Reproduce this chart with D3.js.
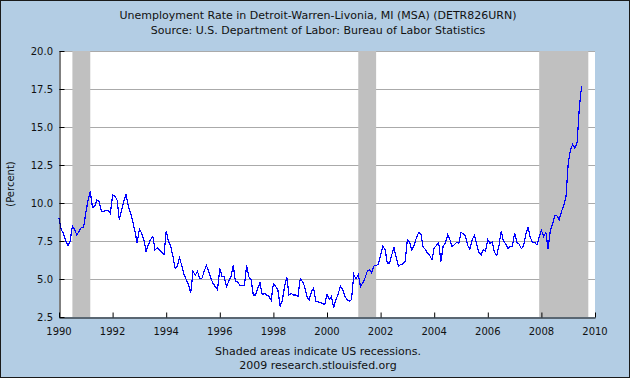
<!DOCTYPE html>
<html>
  <head>
    <meta charset="utf-8">
    <title>Unemployment Rate in Detroit-Warren-Livonia</title>
    <script src="https://d3js.org/d3.v7.min.js"></script>
    <style>
      body { margin: 0; background: #fff; }
      text { font-family: "DejaVu Sans", Verdana, sans-serif; font-size: 10px; fill: #111; }
      text.big { font-size: 11px; }
    </style>
  </head>
  <body>
    <script>
      // chart data: monthly rate (percent), starting Jan 1990
      var startYear = 1990;
      var rate = [
        9.0, 8.25, 8.0, 7.5, 7.2, 7.5, 8.5, 8.25, 7.9, 8.15, 8.4, 8.4,
        9.35, 10.2, 10.75, 9.7, 9.8, 10.2, 10.1, 9.45, 9.45, 9.5, 9.5, 9.3,
        10.55, 10.45, 10.2, 8.9, 9.55, 10.1, 10.6, 9.8, 9.35, 8.8, 8.15, 7.35,
        8.3, 8.0, 7.6, 6.8, 7.25, 7.6, 7.8, 6.9, 7.05, 6.9, 6.75, 6.6,
        8.15, 7.5, 7.15, 6.5, 5.7, 5.85, 6.4, 5.85, 5.3, 4.95, 4.6, 4.1,
        5.5, 5.25, 5.5, 5.05, 5.05, 5.5, 5.9, 5.5, 5.05, 4.7, 4.5, 4.3,
        5.7, 5.15, 5.15, 4.5, 4.85, 5.15, 5.9, 4.85, 4.8, 4.6, 4.55, 4.55,
        5.9, 5.15, 4.95, 3.95, 3.95, 4.4, 4.75, 3.95, 4.05, 3.95, 3.85, 3.6,
        4.7, 4.5, 4.3, 3.2, 3.6, 4.5, 5.1, 3.95, 4.05, 3.95, 3.95, 3.85,
        5.0, 4.85, 4.5, 3.85, 3.6, 4.15, 4.4, 3.5, 3.5, 3.45, 3.4, 3.3,
        4.0, 3.65, 3.85, 3.1, 3.65, 4.0, 4.55, 4.3, 3.85, 3.65, 3.55, 3.65,
        5.3, 5.0, 5.3, 4.5, 4.75, 5.05, 5.5, 5.6, 5.4, 5.85, 5.9, 5.95,
        6.6, 7.15, 6.95, 6.05, 6.05, 6.6, 7.05, 6.4, 5.85, 5.95, 6.0, 6.15,
        7.6, 7.4, 6.9, 7.2, 7.7, 8.05, 8.0, 7.1, 6.95, 6.7, 6.55, 6.25,
        7.05, 7.2, 7.4, 6.15, 7.15, 7.35, 7.9, 7.6, 7.15, 7.25, 7.4, 7.35,
        8.05, 8.0, 7.8, 7.2, 6.97, 7.6, 7.85, 7.3, 6.75, 6.58, 6.93, 6.85,
        7.6, 7.35, 7.45, 6.75, 6.55, 7.2, 8.15, 7.5, 7.3, 7.0, 7.15, 7.15,
        8.05, 7.4, 7.3, 7.0, 7.15, 7.95, 8.4, 7.75, 7.4, 7.4, 7.25, 7.75,
        8.2, 7.8, 8.05, 7.0, 8.2, 8.6, 9.17, 9.15, 8.9, 9.45, 9.8, 10.4,
        12.6, 13.5, 13.85, 13.6, 14.0, 16.3, 17.7
      ];

      // recessions as [start, end] in decimal years
      var recessions = [[1990.5, 1991.167], [2001.167, 2001.833], [2007.917, 2009.75]];

      var yTicks = [2.5, 5.0, 7.5, 10.0, 12.5, 15.0, 17.5, 20.0];
      var xTicks = [1990, 1992, 1994, 1996, 1998, 2000, 2002, 2004, 2006, 2008, 2010];

      var titleText = "Unemployment Rate in Detroit-Warren-Livonia, MI (MSA) (DETR826URN)",
        sourceText = "Source: U.S. Department of Labor: Bureau of Labor Statistics",
        noteText = "Shaded areas indicate US recessions.",
        creditText = "2009 research.stlouisfed.org";

      var width = 630, height = 378;
      var plot = { left: 59, right: 595, top: 51, bottom: 317 };

      var svg = d3.select("body").append("svg")
        .attr("width", width)
        .attr("height", height);

      // light blue panel with dark frame
      svg.append("rect")
        .attr("x", 0.5).attr("y", 0.5)
        .attr("width", width - 1).attr("height", height - 1)
        .attr("fill", "#b3cde4")
        .attr("stroke", "#1a1a1a");

      var x = d3.scaleLinear().domain([1990, 2010]).range([plot.left, plot.right]);
      var y = d3.scaleLinear().domain([2.5, 20]).range([plot.bottom, plot.top]);

      // white plot area
      svg.append("rect")
        .attr("x", plot.left).attr("y", plot.top)
        .attr("width", plot.right - plot.left).attr("height", plot.bottom - plot.top)
        .attr("fill", "#fff");

      // grid lines
      svg.append("g").selectAll("line")
        .data(yTicks.slice(1))
        .enter().append("line")
          .attr("x1", plot.left).attr("x2", plot.right)
          .attr("y1", function(d) { return Math.round(y(d)) + 0.5; })
          .attr("y2", function(d) { return Math.round(y(d)) + 0.5; })
          .attr("stroke", "#aaa");

      // recession shading
      svg.append("g").selectAll("rect")
        .data(recessions)
        .enter().append("rect")
          .attr("x", function(d) { return x(d[0]); })
          .attr("width", function(d) { return x(d[1]) - x(d[0]); })
          .attr("y", plot.top)
          .attr("height", plot.bottom - plot.top)
          .attr("fill", "#c0c0c0");

      // the series
      var line = d3.line()
        .x(function(d, i) { return x(startYear + i / 12); })
        .y(function(d) { return y(d); });

      svg.append("path")
        .datum(rate)
        .attr("d", line)
        .attr("fill", "none")
        .attr("stroke", "#0000ff")
        .attr("stroke-width", 1.2)
        .attr("shape-rendering", "crispEdges");

      // axes, ticks pointing inwards
      svg.append("g")
        .attr("transform", "translate(" + (plot.left + 0.5) + ",0)")
        .call(d3.axisRight(y).tickValues(yTicks).tickSize(5).tickSizeOuter(0).tickFormat(""));
      svg.append("g")
        .attr("transform", "translate(0," + (plot.bottom + 0.5) + ")")
        .call(d3.axisTop(x).tickValues(xTicks).tickSize(5).tickSizeOuter(0).tickFormat(""));
      svg.selectAll(".domain, .tick line").attr("stroke", "#000");

      // tick labels
      svg.append("g").selectAll("text")
        .data(yTicks)
        .enter().append("text")
          .attr("x", plot.left - 6)
          .attr("y", function(d) { return y(d) + 3.5; })
          .attr("text-anchor", "end")
          .text(d3.format(".1f"));

      svg.append("g").selectAll("text")
        .data(xTicks)
        .enter().append("text")
          .attr("x", function(d) { return x(d); })
          .attr("y", 334.5)
          .attr("text-anchor", "middle")
          .text(function(d) { return d; });

      // titles and notes
      var cx = 318;
      svg.append("text").attr("class", "big").attr("x", cx).attr("y", 18.5).attr("text-anchor", "middle").text(titleText);
      svg.append("text").attr("class", "big").attr("x", cx).attr("y", 33.5).attr("text-anchor", "middle").text(sourceText);
      svg.append("text").attr("class", "big").attr("x", cx).attr("y", 355).attr("text-anchor", "middle").text(noteText);
      svg.append("text").attr("class", "big").attr("x", cx).attr("y", 368.5).attr("text-anchor", "middle").text(creditText);

      svg.append("text")
        .attr("transform", "translate(14," + ((plot.top + plot.bottom) / 2) + ") rotate(-90)")
        .attr("text-anchor", "middle")
        .text("(Percent)");
    </script>
  </body>
</html>
